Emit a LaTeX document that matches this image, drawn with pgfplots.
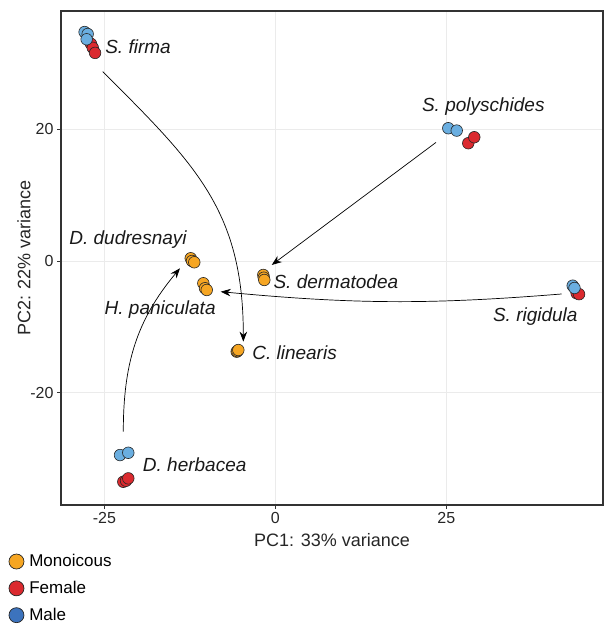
\documentclass[border=0pt]{standalone}
\usepackage{pgfplots}
\pgfplotsset{compat=1.18}
\usepackage{fontspec}
\setmainfont{Liberation Sans}
\usetikzlibrary{arrows.meta}
\definecolor{cOrange}{HTML}{F6A623}
\definecolor{cRed}{HTML}{DB2A2F}
\definecolor{cLBlue}{HTML}{6AAEE0}
\definecolor{cBlue}{HTML}{3C73BD}
\definecolor{gridc}{HTML}{EBEBEB}
\definecolor{framec}{HTML}{333333}

\pgfplotstableread{
x y
-1.77 -2.13
-1.70 -2.55
-1.62 -2.89
-12.38 0.41
-12.19 0.00
-11.86 -0.20
-10.54 -3.39
-10.29 -4.15
-10.04 -4.41
-5.66 -13.79
-5.55 -13.70
-5.42 -13.54
}\mono

\pgfplotstableread{
x y
-26.96 33.00
-26.70 32.40
-26.37 31.63
28.20 17.90
29.08 18.81
44.05 -4.91
44.40 -5.05
-22.24 -33.57
-21.84 -33.41
-21.51 -33.05
}\female

\pgfplotstableread{
x y
-27.90 34.80
-27.45 34.50
-27.60 33.70
25.28 20.18
26.51 19.82
43.47 -3.76
43.73 -4.11
-22.72 -29.51
-21.51 -29.16
}\male

\begin{document}
\begin{tikzpicture}[x=1pt,y=1pt]
\begin{axis}[
  at={(61pt,120pt)}, anchor=south west,
  scale only axis, width=542pt, height=494pt,
  xmin=-31.35, xmax=47.9, ymin=-37.1, ymax=38.0,
  xtick={-25,0,25}, ytick={-20,0,20},
  xticklabels={{-25},{0},{25}}, yticklabels={{-20},{0},{20}},
  xtick pos=bottom, ytick pos=left,
  tick align=outside, major tick length=4pt,
  tick style={framec, line width=0.8pt},
  axis line style={framec, line width=1.1pt},
  xmajorgrids, ymajorgrids,
  major grid style={gridc, line width=0.6pt},
  ticklabel style={font=\fontsize{16}{18}\selectfont, text=black!85},
  xlabel={PC1: 33\% variance}, ylabel={PC2: 22\% variance},
  label style={font=\fontsize{18}{20}\selectfont, text=black!85},
  xlabel style={at={(axis description cs:0.5,-0.0709)}, anchor=center},
  ylabel style={at={(axis description cs:-0.0683,0.5)}, anchor=center, rotate=0},
  clip=false,
  legend entries={Monoicous,Female,Male},
  legend style={at={(axis description cs:-0.097,-0.098)}, anchor=north west,
    draw=none, fill=none, font=\fontsize{17}{19}\selectfont,
    row sep=11pt, column sep=4pt, inner sep=0pt, cells={anchor=west},
    nodes={inner sep=1pt}},
]
\addlegendimage{legend image code/.code={\filldraw[fill=cOrange, draw=black!85, line width=0.7pt] (7.5pt,0pt) circle (7.5pt);}}
\addlegendimage{legend image code/.code={\filldraw[fill=cRed, draw=black!85, line width=0.7pt] (7.5pt,0pt) circle (7.5pt);}}
\addlegendimage{legend image code/.code={\filldraw[fill=cBlue, draw=black!85, line width=0.7pt] (7.5pt,0pt) circle (7.5pt);}}

\addplot[forget plot, only marks, mark=*, mark size=5.8pt, mark options={fill=cOrange, draw=black!85, line width=0.6pt}] table {\mono};
\addplot[forget plot, only marks, mark=*, mark size=5.8pt, mark options={fill=cRed, draw=black!85, line width=0.6pt}] table {\female};
\addplot[forget plot, only marks, mark=*, mark size=5.8pt, mark options={fill=cLBlue, draw=black!85, line width=0.6pt}] table {\male};

\draw[-{Stealth[length=10pt,width=7.5pt]}, line width=0.7pt, black] (axis cs:-25.25,28.79) to[out=-45,in=90,looseness=1.1] (axis cs:-4.69,-12.27);
\draw[-{Stealth[length=10pt,width=7.5pt]}, line width=0.7pt, black] (axis cs:23.48,18.02) -- (axis cs:-0.54,-0.61);
\draw[-{Stealth[length=10pt,width=7.5pt]}, line width=0.7pt, black] (axis cs:41.86,-5.02) to[bend left=5] (axis cs:-8.0,-4.67);
\draw[-{Stealth[length=10pt,width=7.5pt]}, line width=0.7pt, black] (axis cs:-22.24,-25.96) to[out=90,in=-130] (axis cs:-13.95,-1.11);

\tikzset{lab/.style={font=\fontsize{19}{22}\selectfont\itshape, text=black!90, inner sep=0pt}}
\node[lab, anchor=west] at (axis cs:-24.9,32.6) {S. firma};
\node[lab] at (axis cs:30.4,23.4) {S. polyschides};
\node[lab] at (axis cs:-21.55,3.2) {D. dudresnayi};
\node[lab, anchor=west] at (axis cs:-0.3,-3.15) {S. dermatodea};
\node[lab] at (axis cs:-16.85,-7.45) {H. paniculata};
\node[lab] at (axis cs:38.0,-8.5) {S. rigidula};
\node[lab, anchor=west] at (axis cs:-3.4,-14.0) {C. linearis};
\node[lab, anchor=west] at (axis cs:-19.4,-31.0) {D. herbacea};
\end{axis}
\pgfresetboundingbox
\useasboundingbox (0,0) rectangle (611,625);
\end{tikzpicture}
\end{document}
